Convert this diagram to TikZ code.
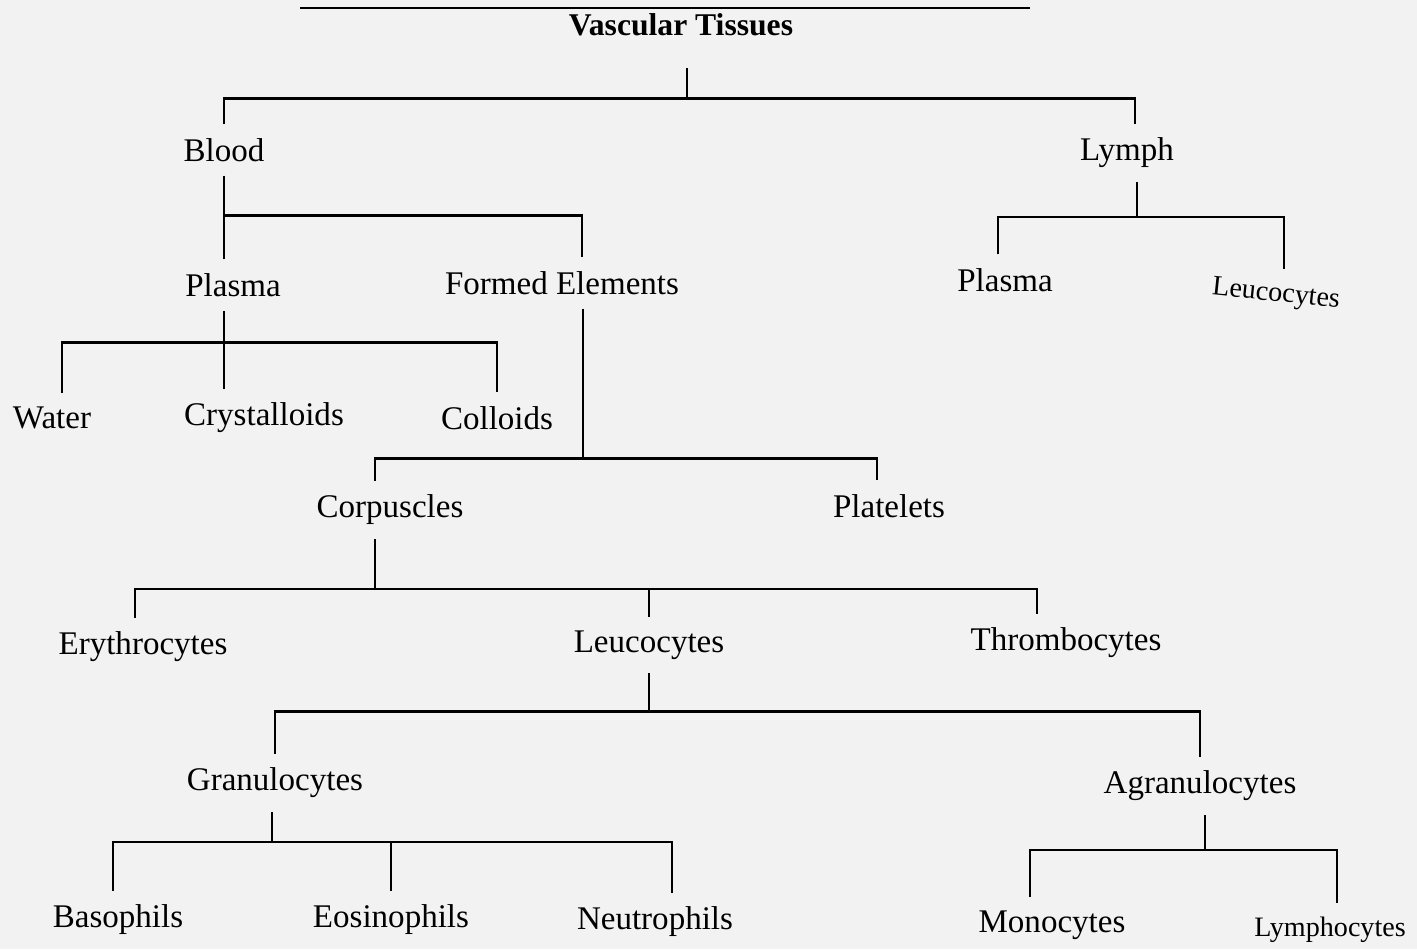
\documentclass[tikz,border=0pt]{standalone}
\usepackage{fontspec}
\setmainfont{Liberation Serif}
\usetikzlibrary{positioning,calc}

\begin{document}
\begin{tikzpicture}[line width=.7pt,
  lab/.style={font=\fontsize{9.4}{11}\selectfont,inner sep=1pt,outer sep=3pt},
  small/.style={lab,font=\fontsize{8}{10}\selectfont}]
  \fill[black!5] (0,0) rectangle (14.17,-9.49);
  \useasboundingbox (0,0) rectangle (14.17,-9.49);
  % heading
  \draw (3,-.08) -- (10.3,-.08);
  \node[lab,font=\bfseries\fontsize{9}{11}\selectfont] (vt) at (6.81,-.25) {Vascular Tissues};
  % blood and lymph
  \node[lab] (blood)  at (2.24,-1.5)  {Blood};
  \node[lab] (lymph)  at (11.27,-1.53) {Lymph};
  \node[lab] (plasma) at (2.33,-2.85) {Plasma};
  \node[lab] (formed) at (5.62,-2.83) {Formed Elements};
  \node[lab] (lplasma) at (10.05,-2.8) {Plasma};
  \node[small,rotate=-6] (lleuc) at (12.76,-2.95) {Leucocytes};
  \node[lab] (water)  at (0.52,-4.18) {Water};
  \node[lab] (cryst)  at (2.64,-4.18) {Crystalloids};
  \node[lab] (coll)   at (4.97,-4.18) {Colloids};
  \node[lab] (corp)   at (3.9,-5.1)   {Corpuscles};
  \node[lab] (plat)   at (8.89,-5.06) {Platelets};
  \node[lab] (ery)    at (1.43,-6.47) {Erythrocytes};
  \node[lab] (leuc)   at (6.49,-6.45) {Leucocytes};
  \node[lab] (thromb) at (10.66,-6.43) {Thrombocytes};
  \node[lab] (gran)   at (2.75,-7.83) {Granulocytes};
  \node[lab] (agran)  at (12.0,-7.86) {Agranulocytes};
  \node[lab] (baso)   at (1.18,-9.2)  {Basophils};
  \node[lab] (eosi)   at (3.91,-9.2)  {Eosinophils};
  \node[lab] (neut)   at (6.55,-9.22) {Neutrophils};
  \node[lab] (mono)   at (10.52,-9.25) {Monocytes};
  \node[small] (lympho) at (13.3,-9.3) {Lymphocytes};

  % vascular tissues
  \draw ([xshift=.06cm,yshift=-.18cm]vt.south) -- ++(0,-.3) coordinate (j0);
  \draw (blood.north) |- (j0) -| ([xshift=.08cm]lymph.north);
  % blood
  \draw (blood.south) -- ++(0,-.4) coordinate (j1);
  \draw (plasma.north -| blood.south) |- (j1) -| ([xshift=.2cm]formed.north);
  % plasma
  \draw (plasma.south -| blood.south) -- (cryst.north -| blood.south);
  \path (plasma.south -| blood.south) ++(0,-.32) coordinate (j2);
  \draw ([xshift=.1cm]water.north) |- (j2) -| (coll.north);
  % formed elements
  \draw ([xshift=.21cm]formed.south) -- ++(0,-1.5) coordinate (j3);
  \draw ([xshift=-.15cm]corp.north) |- (j3) -| ([xshift=-.12cm]plat.north);
  % corpuscles
  \draw ([xshift=-.15cm]corp.south) -- ++(0,-.5) coordinate (j4);
  \draw ([xshift=-.08cm]ery.north) |- (j4) -| ([xshift=-.29cm]thromb.north);
  \draw (leuc.north) -- (leuc.north |- j4);
  % leucocytes
  \draw (leuc.south) -- ++(0,-.38) coordinate (j5);
  \draw (gran.north) |- (j5) -| (agran.north);
  % granulocytes
  \draw ([xshift=-.03cm]gran.south) -- ++(0,-.3) coordinate (j6);
  \draw ([xshift=-.05cm]baso.north) |- (j6) -| ([xshift=.17cm]neut.north);
  \draw (eosi.north) -- (eosi.north |- j6);
  % agranulocytes
  \draw ([xshift=.05cm]agran.south) -- ++(0,-.35) coordinate (j7);
  \draw ([xshift=-.22cm]mono.north) |- (j7) -| ([xshift=.07cm]lympho.north);
  % lymph
  \draw ([xshift=.1cm]lymph.south) -- ++(0,-.35) coordinate (j8);
  \draw ([xshift=-.07cm]lplasma.north) |- (j8) -| ([xshift=.05cm]lleuc.north);
\end{tikzpicture}
\end{document}
